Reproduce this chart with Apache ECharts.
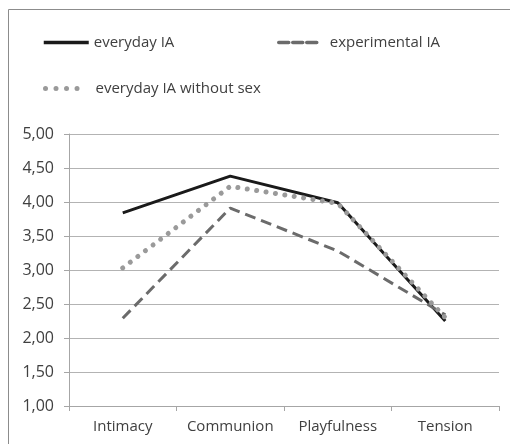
<!DOCTYPE html>
<html>
<head>
<meta charset="utf-8">
<script src="https://cdn.jsdelivr.net/npm/echarts@6/dist/echarts.min.js"></script>
<style>
  html, body { margin: 0; padding: 0; background: #fff; }
  #chart { width: 510px; height: 444px; }
</style>
</head>
<body>
<div id="chart"></div>
<script>
  // scales
  var categories = ['Intimacy', 'Communion', 'Playfulness', 'Tension']
  var everydayIA = [3.84, 4.38, 3.99, 2.25]
  var experimentalIA = [2.29, 3.91, 3.28, 2.34]
  var everydayNoSex = [3.03, 4.23, 3.98, 2.30]
  var yTicks = [1, 1.5, 2, 2.5, 3, 3.5, 4, 4.5, 5]

  var font = '"Open Sans", "Noto Sans", sans-serif'
  var textColor = '#404040'

  var chart = echarts.init(document.getElementById('chart'))

  function legendAt(name, left, top, width, gap, line) {
    return {
      data: [name],
      left: left,
      top: top,
      itemWidth: width,
      itemHeight: 14,
      itemGap: 0,
      padding: 0,
      itemStyle: { opacity: 0 },
      lineStyle: line,
      textStyle: { fontFamily: font, fontSize: 15, color: textColor, padding: [0, 0, 0, gap] }
    }
  }

  chart.setOption({
    animation: false,
    graphic: [{
      type: 'rect',
      shape: { x: 8.5, y: 9.5, width: 530, height: 460 },
      style: { fill: 'none', stroke: '#8c8c8c', lineWidth: 1 },
      silent: true
    }],
    legend: [
      legendAt('everyday IA', 42, 35, 45, 0, { width: 3.5, type: 'solid' }),
      legendAt('experimental IA', 277, 35, 38, 8, { width: 3.5, type: [10, 4], cap: 'round' }),
      legendAt('everyday IA without sex', 43, 81, 36, 9, { width: 5, type: [0.01, 10.5], cap: 'round' })
    ],
    grid: { left: 69, right: 11, top: 134, bottom: 38 },
    xAxis: {
      type: 'category',
      data: categories,
      boundaryGap: true,
      axisLine: { lineStyle: { color: '#a6a6a6', width: 1 } },
      axisTick: { show: true, length: 5, lineStyle: { color: '#a6a6a6' } },
      axisLabel: { fontFamily: font, fontSize: 15, color: textColor, margin: 13, interval: 0 }
    },
    yAxis: {
      type: 'value',
      min: yTicks[0],
      max: yTicks[yTicks.length - 1],
      interval: 0.5,
      axisLine: { show: true, lineStyle: { color: '#a6a6a6', width: 1 } },
      axisTick: { show: true, length: 5, lineStyle: { color: '#a6a6a6' } },
      splitLine: { lineStyle: { color: '#b3b3b3', width: 1 } },
      axisLabel: {
        fontFamily: font, fontSize: 16, color: textColor, margin: 15,
        formatter: function (v) { return v.toFixed(2).replace('.', ',') }
      }
    },
    series: [
      {
        name: 'everyday IA',
        type: 'line',
        data: everydayIA,
        symbol: 'none',
        color: '#1a1a1a',
        lineStyle: { color: '#1a1a1a', width: 3, cap: 'butt' }
      },
      {
        name: 'experimental IA',
        type: 'line',
        data: experimentalIA,
        symbol: 'none',
        color: '#6b6b6b',
        lineStyle: { color: '#6b6b6b', width: 3, type: [11, 6], cap: 'butt' }
      },
      {
        name: 'everyday IA without sex',
        type: 'line',
        data: everydayNoSex,
        symbol: 'none',
        color: '#9a9a9a',
        lineStyle: { color: '#9a9a9a', width: 5, type: [0.01, 9.5], cap: 'round' }
      }
    ]
  })
</script>
</body>
</html>
